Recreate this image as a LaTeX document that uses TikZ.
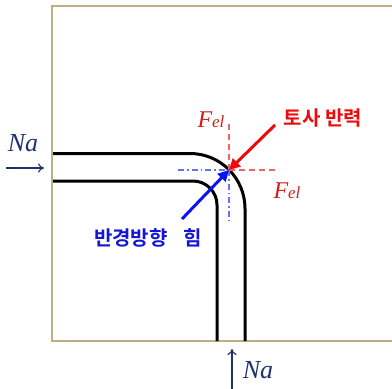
\documentclass[tikz,border=0pt]{standalone}
\usepackage{fontspec}
\setmainfont{Liberation Serif}
\newfontfamily\krfont{Noto Sans CJK KR}[BoldFont={* Bold}]
\usepackage{xcolor}
\usetikzlibrary{arrows.meta, positioning}
\definecolor{navyline}{RGB}{30,50,110}
\definecolor{framecol}{RGB}{190,175,130}
\definecolor{forcered}{RGB}{238,10,10}
\definecolor{guidered}{RGB}{240,100,100}
\definecolor{textred}{RGB}{205,30,30}
\definecolor{forceblue}{RGB}{10,20,240}
\definecolor{guideblue}{RGB}{100,115,240}
\definecolor{textblue}{RGB}{20,20,215}
\tikzset{
  pipe/.style={line width=3pt, draw=black},
  frameline/.style={line width=1.4pt, draw=framecol},
  axial/.style={line width=1.2pt, draw=navyline, -{To[length=6pt,width=9pt]}},
  force/.style={line width=3pt, -{Triangle[length=11pt,width=11pt]}},
  redguide/.style={line width=1.2pt, draw=guidered, dash pattern=on 6pt off 4pt},
  blueguide/.style={line width=1.2pt, draw=guideblue, dash pattern=on 6pt off 3pt on 1.5pt off 3pt},
  natext/.style={text=navyline, font=\fontsize{26}{26}\selectfont\itshape, inner sep=0pt},
  feltext/.style={text=textred, font=\fontsize{24}{24}\selectfont\itshape, inner sep=0pt},
  krtext/.style={font=\krfont\bfseries\fontsize{20}{20}\selectfont, inner sep=0pt}
}
\newcommand{\Fel}{F{\fontsize{17}{17}\selectfont el}}

\begin{document}
\begin{tikzpicture}[x=1pt, y=-1pt]
\useasboundingbox (0,0) rectangle (392,389);
% frame
\draw[frameline] (400,6) -- (52,6) -- (52,341) -- (400,341);
% pipe walls
\draw[pipe, rounded corners=55pt] (53,153.5) -- (245,153.5) -- (245,341);
\draw[pipe, rounded corners=24pt] (53,181) -- (217,181) -- (217,341);
\coordinate (P) at (229,170);
% guide lines
\coordinate (rtop) at (229,122);
\coordinate (rright) at (279,170);
\coordinate (bleft) at (178,170);
\coordinate (bbot) at (229,222);
\draw[redguide] (P) -- (rtop);
\draw[redguide] (P) -- (rright);
\draw[blueguide] (bleft) -- (P);
\draw[blueguide] (P) -- (bbot);
% forces
\coordinate (rtail) at (275,125);
\coordinate (btail) at (182,219);
\draw[force, forcered] (rtail) -- (P);
\draw[force, forceblue] (btail) -- (P);
\node[feltext] (feltop) at (211,120) {\Fel};
\node[feltext] (felright) at (287,191) {\Fel};
\node[krtext, text=forcered] (soil) at (323,118) {토사 반력};
\node[krtext, text=textblue] (radial) at (148,238) {반경방향\hspace{0.8em}힘};
% axial loads
\node[natext] (naleft) at (23,143) {Na};
\coordinate (lstart) at (6,168);
\coordinate (lend) at (44,168);
\draw[axial] (lstart) -- (lend);
\node[natext] (nabot) at (258,370) {Na};
\coordinate (bstart) at (232,389);
\coordinate (bend) at (232,349);
\draw[axial] (bstart) -- (bend);
\end{tikzpicture}
\end{document}
